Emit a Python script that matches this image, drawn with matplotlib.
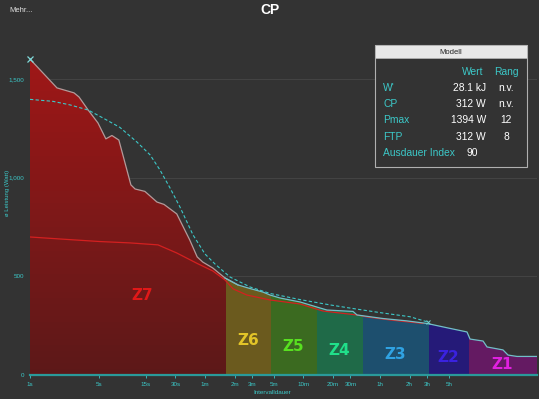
import numpy as np
import matplotlib
matplotlib.use('Agg')
import matplotlib.pyplot as plt
from matplotlib.patches import Rectangle

# ---------------- data ----------------
# mean-max power curve (duration s, watts)
secs = [1, 1.88, 2.8, 3.15, 3.9, 4.9, 5.9, 6.8, 8.0, 10.6, 11.7, 14.7, 19.5, 23, 31,
        42, 50, 57, 72, 96, 130, 172, 233, 275, 347, 554, 826, 1043, 1918, 2105,
        3866, 6780, 10830, 18550, 27600, 29650, 40200, 44100, 64100, 72100, 89000, 142000]
watts = [1600, 1454, 1429, 1408, 1342, 1277, 1196, 1213, 1190, 963, 942, 930, 876, 864, 816,
         684, 598, 572, 542, 491, 456, 438, 420, 405, 390, 370, 344, 329, 322, 304,
         286, 274, 261, 236, 218, 182, 172, 142, 127, 101, 94, 94]

# CP model curve (dashed)
model_secs = [1, 1.71, 2.55, 3.9, 5.5, 8.2, 12.2, 16.6, 20.9, 26.5, 33.4, 45.4, 60, 75.9,
              108, 172, 275, 554, 1119, 1786, 3600, 7280, 11090]
model_watts = [1396, 1386, 1368, 1342, 1302, 1254, 1180, 1115, 1039, 947, 851, 709, 613, 562,
               496, 446, 413, 382, 355, 339, 316, 295, 268]

# comparison curve (red)
prev_secs = [1, 2.0, 5.1, 10.4, 20, 31, 50, 72, 96, 116, 160, 275, 554, 950, 2100, 2660, 4560, 9860]
prev_watts = [699, 689, 676, 669, 659, 618, 565, 527, 481, 436, 405, 380, 360, 324, 304, 294, 279, 261]

zone_names = ['Z7', 'Z6', 'Z5', 'Z4', 'Z3', 'Z2', 'Z1']
zone_edges = [1, 99, 279, 822, 2410, 11300, 28900, 142000]
zone_colors = ['#8a1a1a', '#6b5a1e', '#3b6a20', '#1f6a48', '#1d4f6e', '#251a78', '#641a62']
zone_label_colors = ['#e01818', '#e2c428', '#58e020', '#20e08a', '#30a2e2', '#3a22e0', '#e020e0']
zone_label_pos = [(13.7, 405), (164, 177), (471, 142), (1380, 122), (5120, 106), (17700, 91), (62600, 51)]

xtick_secs = [1, 5, 15, 30, 60, 120, 180, 300, 600, 1200, 1800, 3600, 7200, 10800, 18000]
xtick_labels = ['1s', '5s', '15s', '30s', '1m', '2m', '3m', '5m', '10m', '20m', '30m', '1h', '2h', '3h', '5h']
ytick_vals = [0, 500, 1000, 1500]
ytick_labels = ['0', '500', '1,000', '1,500']

table_labels = ["W'", 'CP', 'Pmax', 'FTP', 'Ausdauer Index']
table_values = ['28.1 kJ', '312 W', '1394 W', '312 W', '90']
table_ranks = ['n.v.', 'n.v.', '12', '8', '']

# ---------------- figure ----------------
W, H = 539, 399
BG = '#333333'
CYAN = '#3cc8c8'
fig = plt.figure(figsize=(W / 100, H / 100), dpi=100, facecolor=BG)
plt.rcParams['font.family'] = ['Liberation Sans', 'DejaVu Sans']


def px(x, y):
    return x / W, 1 - y / H


ax = fig.add_axes([30 / W, (H - 375) / H, 507 / W, 340 / H])
ax.set_facecolor(BG)
ax.set_xscale('log')
ax.set_xlim(1, 142000)
ax.set_ylim(0, 1722)

for v in ytick_vals[1:]:
    ax.axhline(v, color='#474747', lw=0.6, zorder=0)

# clip polygon under the power curve
poly = ax.fill_between(secs, watts, 0, facecolor='none', edgecolor='none')
clip_path = poly.get_paths()[0]

# zone fills
for i, (lo, hi) in enumerate(zip(zone_edges[:-1], zone_edges[1:])):
    if i == 0:
        top = np.array([0.63, 0.09, 0.09])
        bot = np.array([0.36, 0.095, 0.095])
        bands = np.linspace(0, 1650, 56)
        for y0, y1 in zip(bands[:-1], bands[1:]):
            t = (y0 + y1) / 2 / 1650
            c = bot + (top - bot) * t
            p = ax.fill_between([lo, hi], [y0, y0], [y1 + 1, y1 + 1], color=c, lw=0, zorder=1)
            p.set_clip_path(clip_path, ax.transData)
    else:
        p = ax.fill_between([lo, hi], [0, 0], [1700, 1700], color=zone_colors[i], lw=0, zorder=1)
        p.set_clip_path(clip_path, ax.transData)

# lines
ax.plot(prev_secs, prev_watts, color='#d42020', lw=0.9, zorder=3)
ax.plot(secs[:21], watts[:21], color='#b39a9a', lw=0.9, zorder=4)
ax.plot(secs[19:], watts[19:], color='#72bfc8', lw=0.9, zorder=4)
ax.plot(model_secs, model_watts, color=CYAN, lw=0.8, ls=(0, (3, 2)), zorder=5)
ax.plot([secs[0]], [watts[0]], marker='x', color='#80dada', ms=5, mew=0.9, zorder=6, clip_on=False)
ax.plot([model_secs[-1]], [model_watts[-1]], marker='x', color='#70d0d0', ms=3, mew=0.7, zorder=6)

# zone labels
for name, c, (xs, ys) in zip(zone_names, zone_label_colors, zone_label_pos):
    ax.text(xs, ys, name, color=c, fontsize=11, fontweight='bold', ha='center', va='center',
            family=['DejaVu Sans'], zorder=7)

# axes styling
for s in ['top', 'right', 'left']:
    ax.spines[s].set_visible(False)
ax.spines['bottom'].set_color('#2a9a9a')
ax.spines['bottom'].set_linewidth(1.6)
ax.set_xticks(xtick_secs)
ax.set_xticklabels(xtick_labels)
ax.xaxis.set_minor_locator(matplotlib.ticker.NullLocator())
ax.set_yticks(ytick_vals)
ax.set_yticklabels(ytick_labels)
ax.tick_params(axis='x', colors=CYAN, labelsize=4.5, length=2, width=0.6, pad=3)
ax.tick_params(axis='y', colors=CYAN, labelsize=4.5, length=0, pad=4)

# titles and axis labels
fig.text(*px(270, 10), 'CP', color='white', fontsize=10, fontweight='bold', ha='center', va='center')
fig.text(*px(9, 10), 'Mehr...', color='#e0e0e0', fontsize=5.5, ha='left', va='center')
fig.text(*px(7, 193), 'ø Leistung (Watt)', color=CYAN, fontsize=4.3, rotation=90, ha='center', va='center')
fig.text(*px(272, 392), 'Intervalldauer', color=CYAN, fontsize=4.5, ha='center', va='center')

# model table
bx0, by0, bx1, by1 = 375, 45, 527, 167
fig.patches.append(Rectangle(px(bx0, by1), (bx1 - bx0) / W, (by1 - by0) / H, transform=fig.transFigure,
                             facecolor=BG, edgecolor='#b0b0b0', lw=0.8, zorder=10))
fig.patches.append(Rectangle(px(bx0, 58), (bx1 - bx0) / W, 13 / H, transform=fig.transFigure,
                             facecolor='#e8e8e8', edgecolor='#b0b0b0', lw=0.6, zorder=11))
fig.text(*px(451, 52), 'Modell', color='#222222', fontsize=5.5, ha='center', va='center', zorder=12)
fs = 7.4
fig.text(*px(473, 72), 'Wert', color=CYAN, fontsize=fs, ha='center', va='center', zorder=12)
fig.text(*px(506, 72), 'Rang', color=CYAN, fontsize=fs, ha='center', va='center', zorder=12)
row_y = [88, 104, 120, 137, 153]
for lab, val, rk, yy in zip(table_labels, table_values, table_ranks, row_y):
    fig.text(*px(383, yy), lab, color=CYAN, fontsize=fs, ha='left', va='center', zorder=12)
    if lab.startswith('Ausdauer'):
        fig.text(*px(472, yy), val, color='white', fontsize=fs, ha='center', va='center', zorder=12)
    else:
        fig.text(*px(486, yy), val, color='white', fontsize=fs, ha='right', va='center', zorder=12)
    if rk:
        fig.text(*px(506, yy), rk, color='white', fontsize=fs, ha='center', va='center', zorder=12)

fig.savefig('out.png', dpi=100, facecolor=BG)
